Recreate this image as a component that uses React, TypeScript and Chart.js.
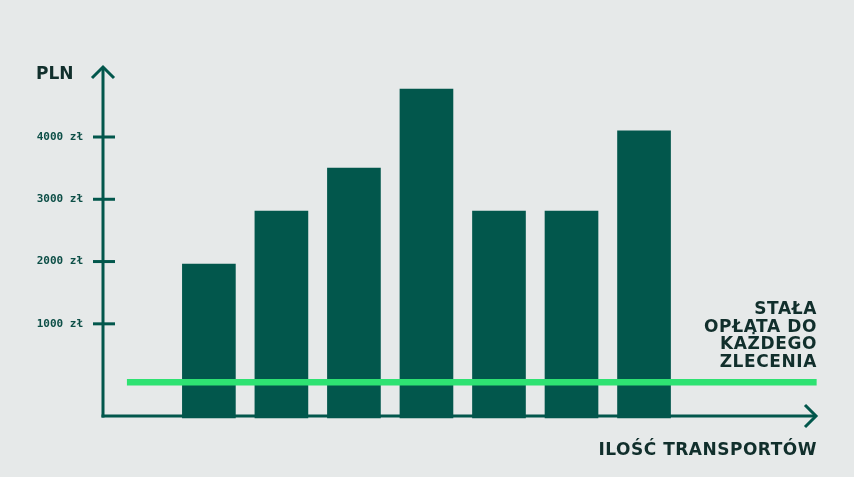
import React, { useEffect, useRef } from "react";
import { Chart, registerables } from "chart.js";

Chart.register(...registerables);

// ---- data ----
const CATEGORIES = [1, 2, 3, 4, 5, 6, 7];
const COSTS = [1960, 2810, 3500, 4770, 2810, 2810, 4100];
const FIXED_FEE = 60;
const FEE_SPAN = [-0.13, 9.38];
const Y_TICKS = [1000, 2000, 3000, 4000];
const CURRENCY = "zł";
const Y_TITLE = "PLN";
const X_TITLE = "ILOŚĆ TRANSPORTÓW";
const FEE_LABEL = ["STAŁA", "OPŁATA DO", "KAŻDEGO", "ZLECENIA"];

const Y_MIN = -480;
const Y_MAX = 5140;
const X_MIN = -0.46;
const X_MAX = 9.385;

const BG = "#E6E9E9";
const TEAL = "#02574C";
const GREEN = "#2EE272";
const DARK = "#112F2C";

const axesPlugin = {
  id: "customAxes",
  afterDatasetsDraw(chart: any) {
    const { ctx, chartArea, scales } = chart;
    const x0 = chartArea.left;
    const y0 = chartArea.bottom;
    const xEnd = chartArea.right;
    const yTop = chartArea.top;
    ctx.save();
    ctx.strokeStyle = TEAL;
    ctx.lineWidth = 3;
    ctx.lineCap = "butt";
    ctx.lineJoin = "miter";
    // x axis
    ctx.beginPath();
    ctx.moveTo(x0 - 1.5, y0);
    ctx.lineTo(xEnd - 1, y0);
    ctx.stroke();
    ctx.beginPath();
    ctx.moveTo(xEnd - 12, y0 - 11);
    ctx.lineTo(xEnd - 1, y0);
    ctx.lineTo(xEnd - 12, y0 + 11);
    ctx.stroke();
    // y axis
    ctx.beginPath();
    ctx.moveTo(x0, y0 + 1.5);
    ctx.lineTo(x0, yTop + 1);
    ctx.stroke();
    ctx.beginPath();
    ctx.moveTo(x0 - 11, yTop + 12);
    ctx.lineTo(x0, yTop + 1);
    ctx.lineTo(x0 + 11, yTop + 12);
    ctx.stroke();
    // ticks + labels
    ctx.font = "bold 11px 'DejaVu Sans Mono'";
    ctx.fillStyle = "#0D4F47";
    ctx.textAlign = "right";
    ctx.textBaseline = "middle";
    Y_TICKS.forEach((v) => {
      const py = scales.y.getPixelForValue(v);
      ctx.beginPath();
      ctx.moveTo(x0 - 10, py);
      ctx.lineTo(x0 + 12, py);
      ctx.stroke();
      ctx.fillText(`${v} ${CURRENCY}`, x0 - 20, py);
    });
    // titles
    ctx.fillStyle = DARK;
    ctx.font = "bold 17px 'DejaVu Sans'";
    ctx.textBaseline = "alphabetic";
    ctx.textAlign = "left";
    (ctx as any).letterSpacing = "0px";
    ctx.fillText(Y_TITLE, 36, 79);
    ctx.textAlign = "right";
    (ctx as any).letterSpacing = "0.5px";
    ctx.fillText(X_TITLE, xEnd, 455);
    (ctx as any).letterSpacing = "0.6px";
    FEE_LABEL.forEach((line, i) => {
      ctx.fillText(line, xEnd, 314 + i * 17.7);
    });
    ctx.restore();
  },
};

export default function App() {
  const ref = useRef<HTMLCanvasElement | null>(null);
  useEffect(() => {
    if (!ref.current) return;
    const chart = new Chart(ref.current, {
      type: "bar",
      data: {
        datasets: [
          {
            type: "line",
            data: FEE_SPAN.map((x) => ({ x, y: FIXED_FEE })),
            borderColor: GREEN,
            borderWidth: 6.5,
            borderCapStyle: "butt",
            pointRadius: 0,
            clip: false,
            order: 0,
          } as any,
          {
            type: "bar",
            data: CATEGORIES.map((c, i) => ({ x: c, y: COSTS[i] })),
            backgroundColor: TEAL,
            base: Y_MIN - 30,
            barThickness: 53,
            borderWidth: 0,
            clip: false,
            order: 1,
          } as any,
        ],
      },
      options: {
        animation: false,
        responsive: false,
        maintainAspectRatio: false,
        layout: { padding: { left: 103, right: 37, top: 66, bottom: 61 } },
        plugins: { legend: { display: false }, tooltip: { enabled: false } },
        scales: {
          x: { type: "linear", min: X_MIN, max: X_MAX, offset: false, display: false },
          y: { type: "linear", min: Y_MIN, max: Y_MAX, display: false },
        },
      },
      plugins: [axesPlugin],
    });
    return () => chart.destroy();
  }, []);
  return (
    <div style={{ position: "fixed", left: 0, top: 0, width: 854, height: 477, background: BG }}>
      <canvas ref={ref} width={854} height={477} style={{ width: 854, height: 477, display: "block" }} />
    </div>
  );
}
